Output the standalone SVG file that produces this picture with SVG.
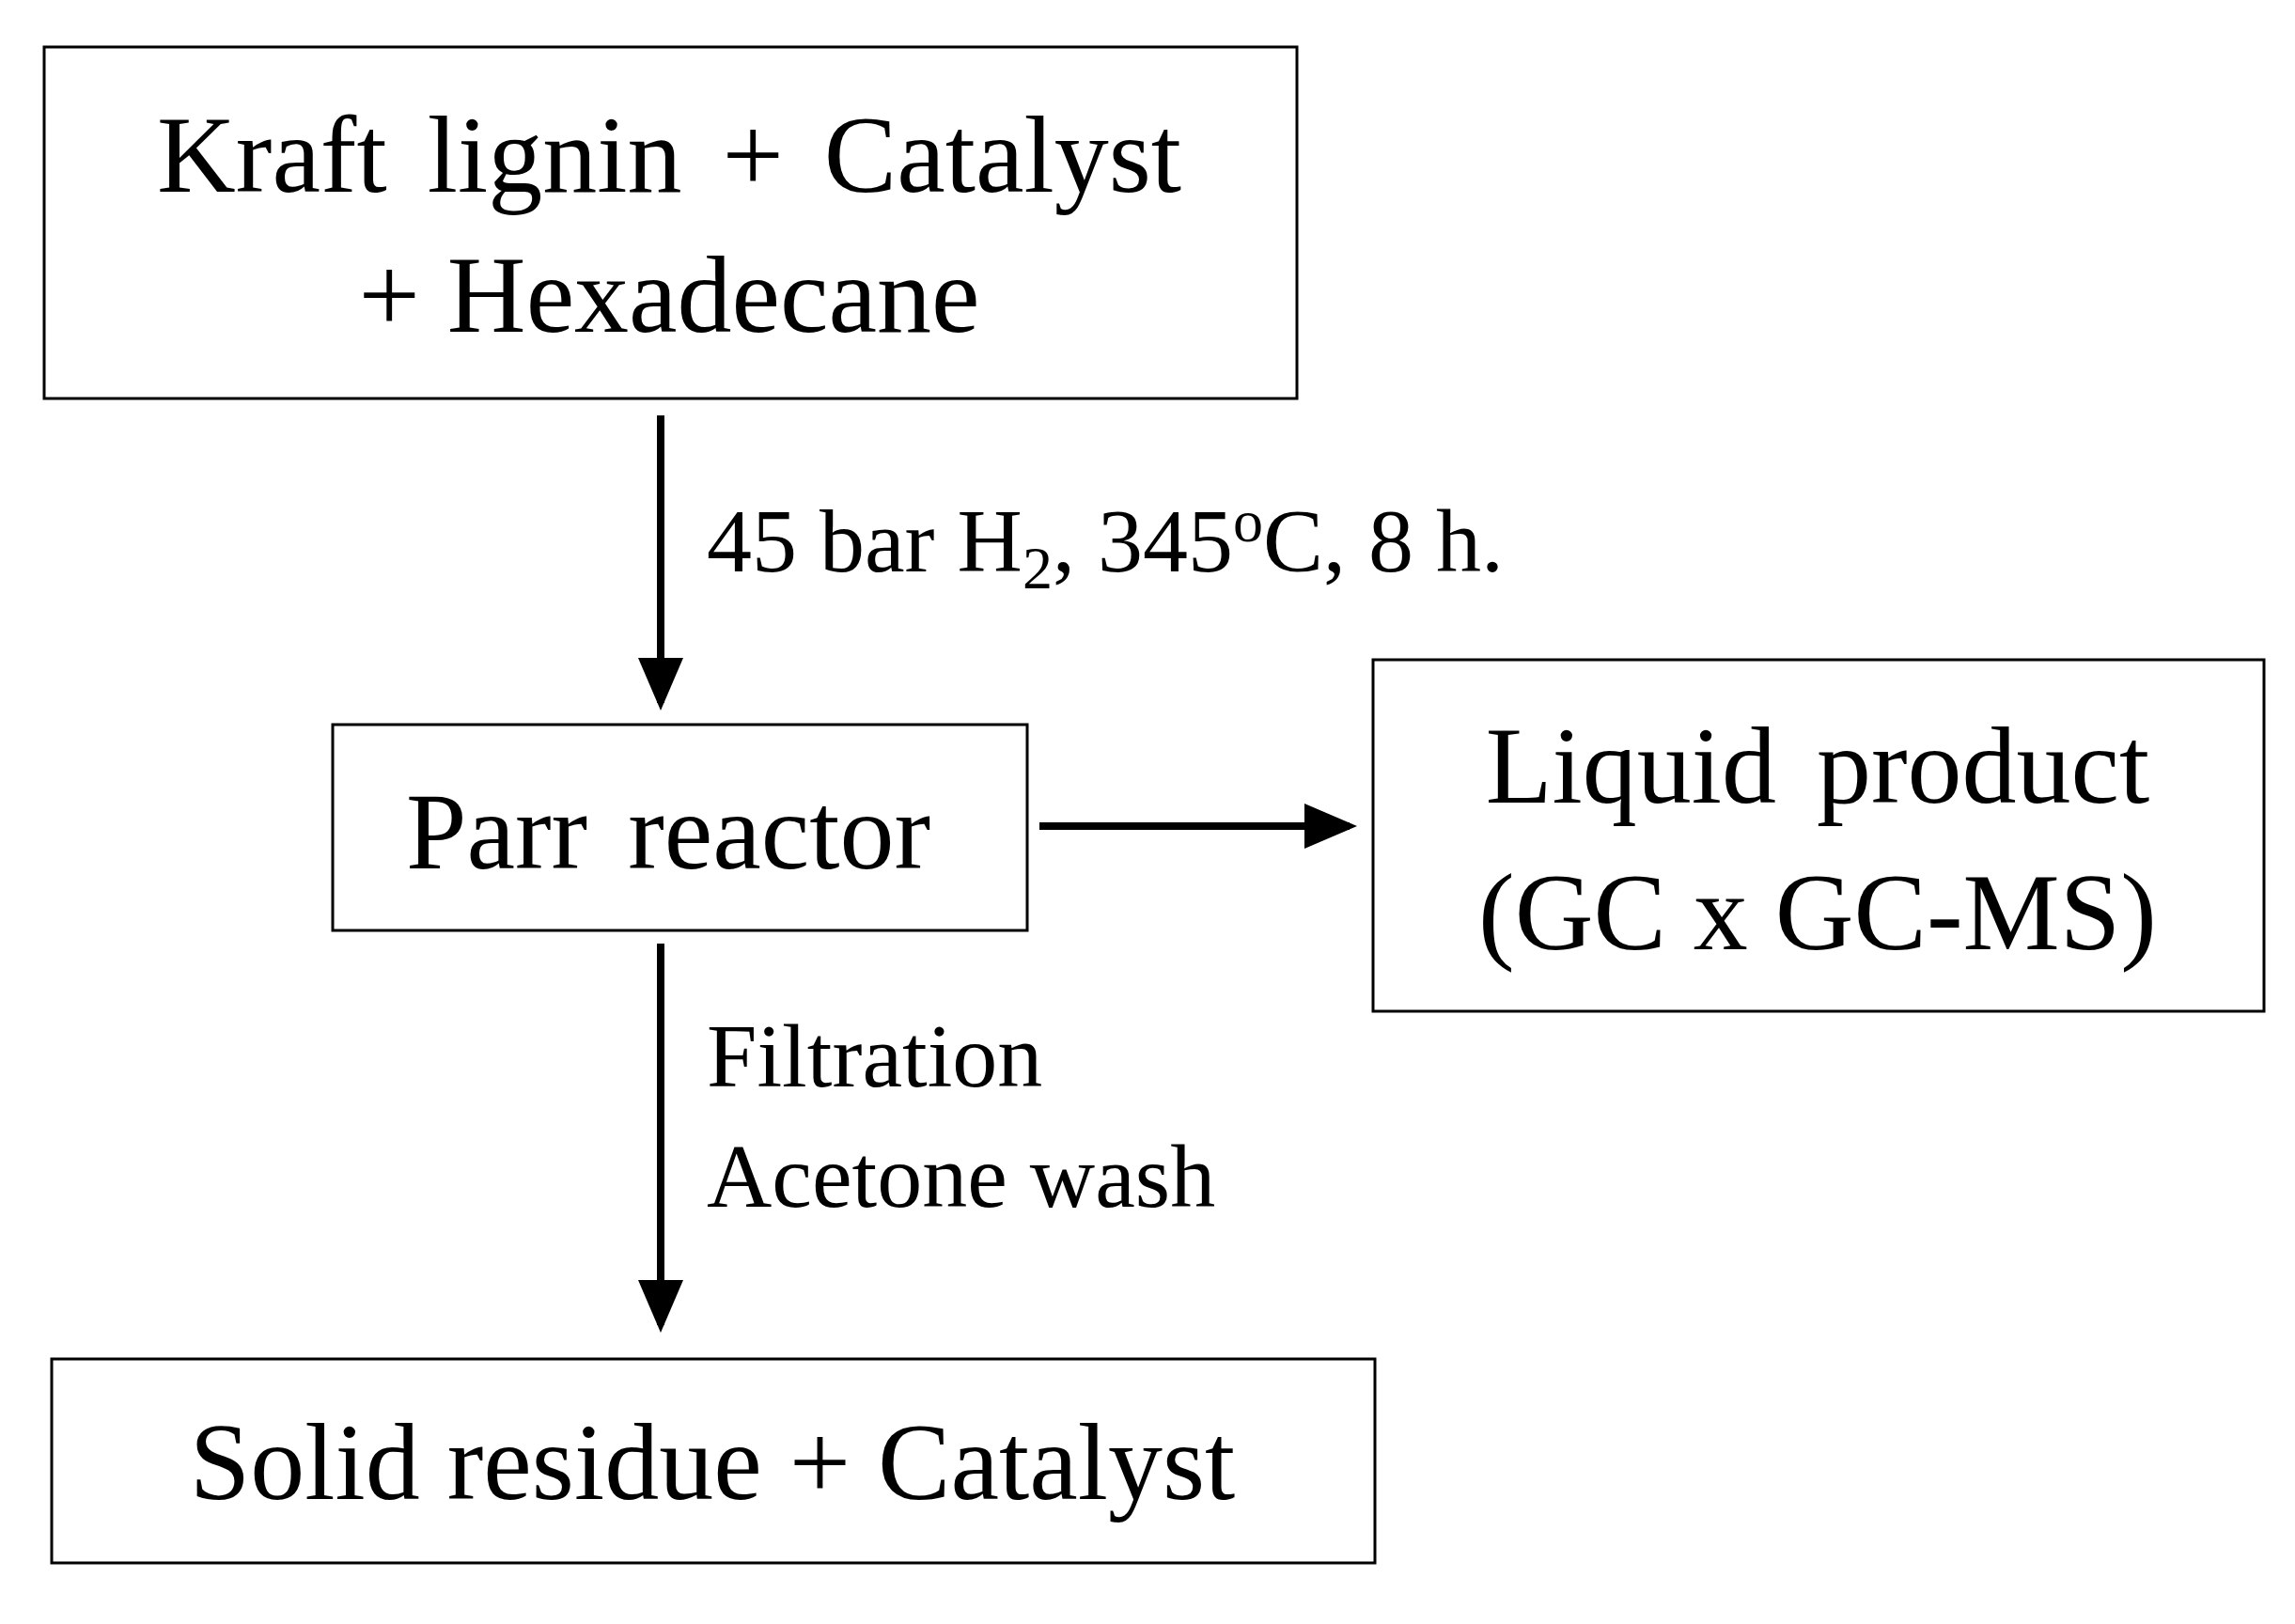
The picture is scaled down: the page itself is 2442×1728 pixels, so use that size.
<svg xmlns="http://www.w3.org/2000/svg" width="2442" height="1728" viewBox="0 0 2442 1728">
<style>
.b{fill:#fff;stroke:#000;stroke-width:3}
.t{font-family:"Liberation Serif",serif;font-size:116px;fill:#000;text-anchor:middle}
.l{font-family:"Liberation Serif",serif;font-size:96px;fill:#000}
.c{stroke:#000;stroke-width:8;fill:none}
</style>
<defs><marker id="a" markerWidth="7" markerHeight="6" refX="6" refY="3" orient="auto" markerUnits="strokeWidth"><path d="M0,0L7,3L0,6Z" fill="#000"/></marker></defs>
<rect width="2442" height="1728" fill="#fff"/>
<g id="n1"><rect class="b" x="47" y="50" width="1333" height="374"/><text class="t" x="712" y="204" word-spacing="14">Kraft lignin + Catalyst</text><text class="t" x="712" y="353">+ Hexadecane</text></g>
<g id="n2"><rect class="b" x="354" y="771" width="739" height="219"/><text class="t" x="711" y="924" word-spacing="14">Parr reactor</text></g>
<g id="n3"><rect class="b" x="1461" y="702" width="948" height="374"/><text class="t" x="1934" y="854" word-spacing="14">Liquid product</text><text class="t" x="1934" y="1010">(GC x GC-MS)</text></g>
<g id="n4"><rect class="b" x="55" y="1446" width="1408" height="217"/><text class="t" x="758" y="1595">Solid residue + Catalyst</text></g>
<g id="connectors">
<line class="c" x1="703" y1="442" x2="703" y2="748" marker-end="url(#a)"/>
<line class="c" x1="1106" y1="879" x2="1436" y2="879" marker-end="url(#a)"/>
<line class="c" x1="703" y1="1004" x2="703" y2="1410" marker-end="url(#a)"/>
<text class="l" x="752" y="608">45 bar H<tspan font-size="64" dy="18">2</tspan><tspan dy="-18">, 345</tspan><tspan font-size="64" dy="-32">o</tspan><tspan dy="32">C, 8 h.</tspan></text>
<text class="l" x="752" y="1156">Filtration</text>
<text class="l" x="752" y="1284">Acetone wash</text>
</g>
</svg>
